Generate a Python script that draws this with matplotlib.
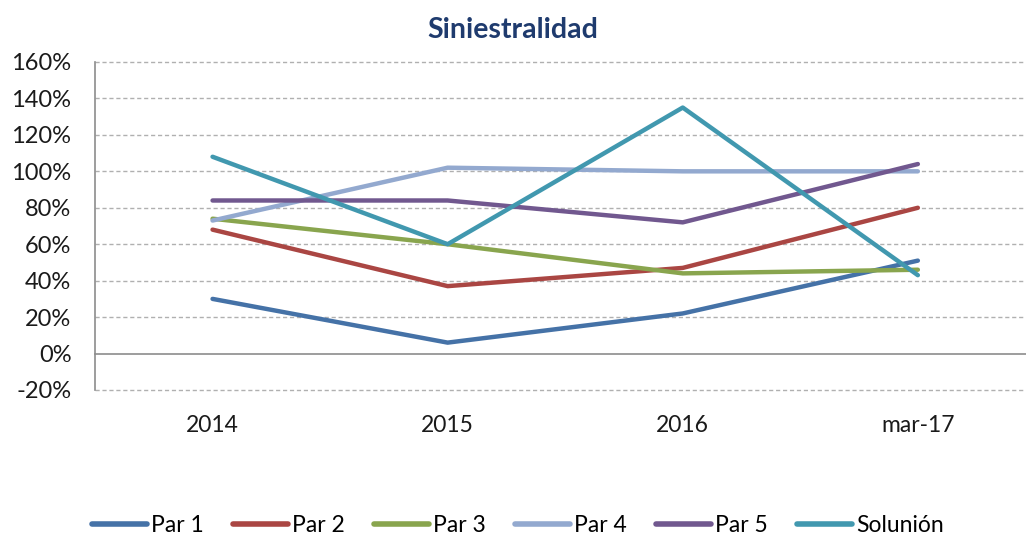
import matplotlib
matplotlib.use("Agg")
import matplotlib.pyplot as plt
from matplotlib.ticker import FuncFormatter

plt.rcParams['font.family'] = ['Lato', 'DejaVu Sans']

categories = ["2014", "2015", "2016", "mar-17"]
par1 = [30, 6, 22, 51]
par2 = [68, 37, 47, 80]
par3 = [74, 60, 44, 46]
par4 = [73, 102, 100, 100]
par5 = [84, 84, 72, 104]
solunion = [108, 60, 135, 43]
series_names = ["Par 1", "Par 2", "Par 3", "Par 4", "Par 5", "Solunión"]
colors = ["#4572A7", "#AA4643", "#89A54E", "#93A9CF", "#71588F", "#4198AF"]
yticks = list(range(-20, 161, 20))

fig = plt.figure(figsize=(10.26, 5.36), dpi=100)
ax = fig.add_axes([95/1026, 1 - 390/536, (1026 - 95)/1026, (390 - 62)/536])

x = list(range(len(categories)))
for vals, name, c in zip([par1, par2, par3, par4, par5, solunion], series_names, colors):
    ax.plot(x, vals, color=c, lw=3.2, label=name, solid_capstyle='round', solid_joinstyle='round')

ax.set_ylim(-20, 160)
ax.set_xlim(-0.5, 3.46)
ax.set_yticks(yticks)
ax.yaxis.set_major_formatter(FuncFormatter(lambda v, p: f"{int(v)}%"))
ax.set_xticks(x)
ax.set_xticklabels(categories)
for yv in yticks:
    if yv == 0:
        ax.axhline(0, color="#8c8c8c", lw=1.2, zorder=1, clip_on=False)
    else:
        ax.axhline(yv, color="#b0b0b0", lw=1.0, ls=(0, (3, 2)), zorder=0, clip_on=False)

for s in ["top", "right", "bottom"]:
    ax.spines[s].set_visible(False)
ax.spines["left"].set_color("#8c8c8c")
ax.spines["left"].set_linewidth(1.2)
ax.tick_params(axis='y', length=0, labelsize=17, pad=17, colors="#1a1a1a")
ax.tick_params(axis='x', length=0, labelsize=16.5, pad=18, colors="#1a1a1a")

fig.text(513/1026, 1 - 30/536, "Siniestralidad", ha='center', va='center',
         fontsize=20.5, fontweight='bold', color="#1F3B6E")

leg = fig.legend(loc='center', bbox_to_anchor=(518/1026, 1 - 526/536), ncol=6,
                 frameon=False, fontsize=16.5, handlelength=2.4, handletextpad=0.15,
                 columnspacing=1.3)
for h in leg.get_lines():
    h.set_linewidth(4)

fig.savefig("out.png", dpi=100)
